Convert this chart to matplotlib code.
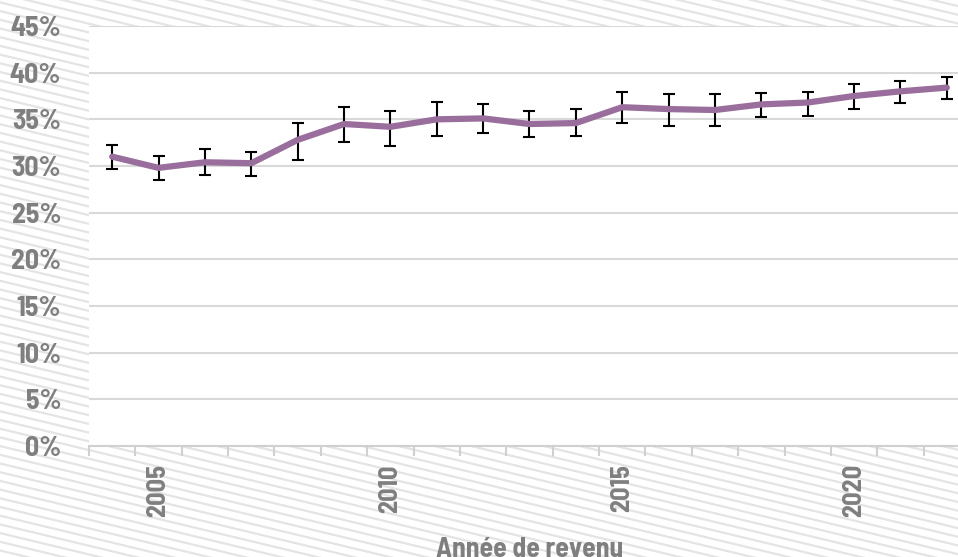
import matplotlib
matplotlib.use("Agg")
import matplotlib.pyplot as plt
import numpy as np
from matplotlib.lines import Line2D

years = list(range(2004, 2023))
values = [31.0, 29.8, 30.4, 30.3, 32.8, 34.5, 34.2, 35.0, 35.1, 34.5, 34.6,
          36.3, 36.1, 36.0, 36.6, 36.8, 37.5, 38.0, 38.4]
upper = [32.2, 31.1, 31.8, 31.5, 34.6, 36.3, 35.9, 36.9, 36.6, 35.9, 36.1,
         37.9, 37.7, 37.7, 37.8, 37.9, 38.8, 39.1, 39.5]
lower = [29.7, 28.5, 29.0, 28.9, 30.6, 32.6, 32.1, 33.2, 33.5, 33.1, 33.2,
         34.6, 34.3, 34.3, 35.3, 35.4, 36.1, 36.7, 37.2]
yticks = [0, 5, 10, 15, 20, 25, 30, 35, 40, 45]
xlabel_years = [2005, 2010, 2015, 2020]
xlabel = "Année de revenu"

FONT = ['Barlow Semi Condensed', 'DejaVu Sans']
GREY = '#7f7f7f'
W, H = 958, 557

fig = plt.figure(figsize=(W / 100, H / 100), dpi=100)
fig.patch.set_facecolor('white')

# background hatch
bg = fig.add_axes([0, 0, 1, 1], zorder=0)
bg.set_xlim(0, W)
bg.set_ylim(H, 0)
bg.axis('off')
slope = 0.24
spacing = 8.7
for c in np.arange(-slope * W - 20, H + 20, spacing):
    bg.add_line(Line2D([0, W], [c, c + slope * W], color='#e4e4e4', lw=1.6))

x = np.arange(len(years))
ax = fig.add_axes([89 / W, (H - 446) / H, 881 / W, 420 / H], zorder=1)
ax.set_facecolor('white')
ax.set_xlim(-0.5, len(years) - 0.5)
ax.set_ylim(0, 45)

vals = np.array(values)
yerr = np.vstack([vals - np.array(lower), np.array(upper) - vals])
ax.errorbar(x, vals, yerr=yerr, fmt='none', ecolor='black', elinewidth=1.5,
            capsize=4, capthick=1.5, zorder=3)
ax.plot(x, vals, color='#9a6e9c', lw=4.5, solid_capstyle='round',
        solid_joinstyle='round', zorder=4)

ax.set_yticks(yticks)
ax.set_yticklabels([f"{v}%" for v in yticks], fontfamily=FONT,
                   fontweight='bold', fontsize=20, color=GREY)
ax.yaxis.grid(True, color='#d9d9d9', lw=1.5)
ax.set_axisbelow(True)
ax.tick_params(axis='y', length=0, pad=20)

for s in ['top', 'right', 'left']:
    ax.spines[s].set_visible(False)
ax.spines['bottom'].set_color('#d0d0d0')
ax.spines['bottom'].set_linewidth(1.5)

ax.set_xticks(np.arange(-0.5, len(years), 1.0), minor=True)
ax.set_xticks([years.index(y) for y in xlabel_years])
ax.set_xticklabels([str(y) for y in xlabel_years], rotation=90,
                   fontfamily=FONT, fontweight='bold', fontsize=19, color=GREY)
ax.tick_params(axis='x', which='major', length=0, pad=13)
ax.tick_params(axis='x', which='minor', length=7, width=1.5, color='#d0d0d0')
ax.set_xlabel(xlabel, fontfamily=FONT, fontweight='bold', fontsize=20,
              color=GREY, labelpad=14)

fig.savefig('out.png', dpi=100)
